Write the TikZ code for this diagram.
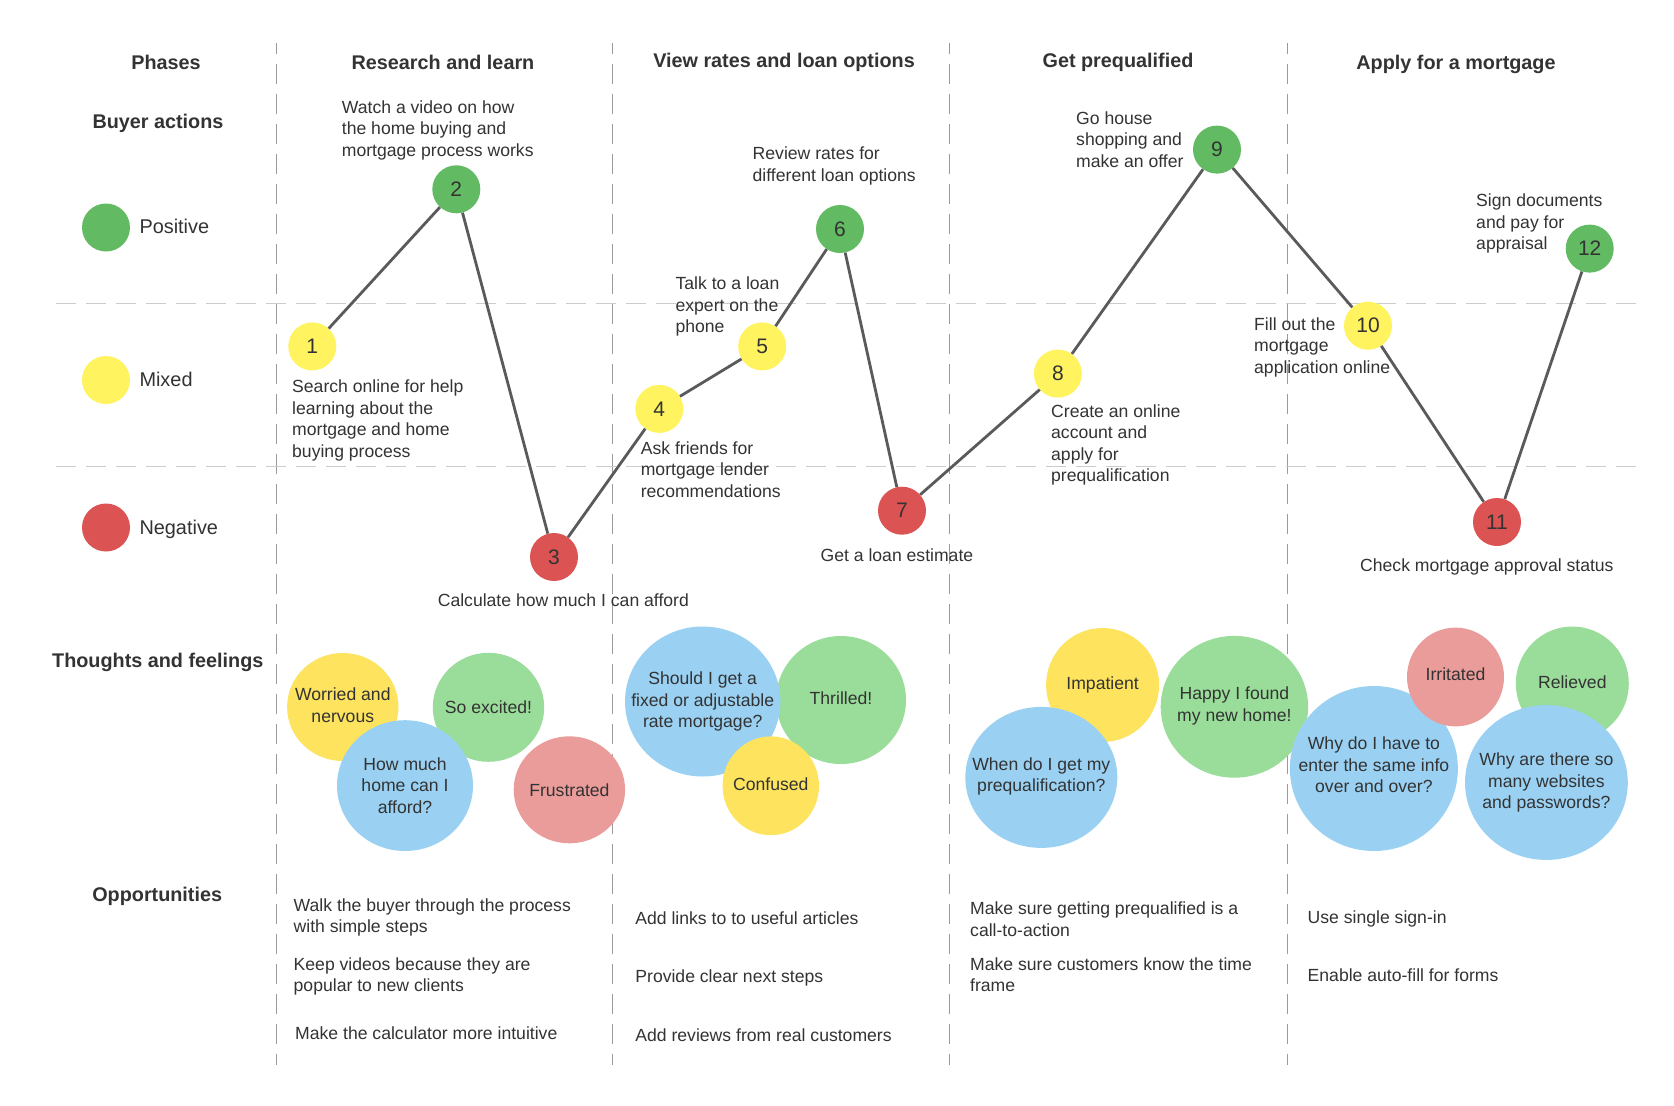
\documentclass[tikz,border=0pt]{standalone}
\usepackage{fontspec}
\setmainfont{Liberation Sans}
\usetikzlibrary{shapes.geometric}
\definecolor{txt}{HTML}{333333}
\definecolor{pgreen}{HTML}{62BB62}
\definecolor{pyellow}{HTML}{FFF35F}
\definecolor{pred}{HTML}{DB5353}
\definecolor{byellow}{HTML}{FDE35E}
\definecolor{bgreen}{HTML}{9ADD9A}
\definecolor{bblue}{HTML}{9AD1F3}
\definecolor{bpink}{HTML}{E99C9A}
\definecolor{vlinec}{HTML}{9A9A9A}
\definecolor{hlinec}{HTML}{CCCCCC}
\definecolor{jlinec}{HTML}{5A5A5A}
\tikzset{
  hdr/.style={font=\fontsize{19.8}{24}\selectfont\bfseries, text=txt, inner sep=0pt, yshift=-1.5pt},
  leg/.style={font=\fontsize{19.9}{24}\selectfont, text=txt, inner sep=0pt, anchor=west, yshift=-1pt},
  lbl/.style={font=\fontsize{17.6}{21.5}\selectfont, text=txt, inner sep=0pt, anchor=west, align=left, yshift=-1.5pt},
  ptbase/.style={circle, minimum size=48pt, inner sep=0pt, font=\fontsize{21}{24}\selectfont, text=txt},
  ptpos/.style={ptbase, fill=pgreen},
  ptmix/.style={ptbase, fill=pyellow},
  ptneg/.style={ptbase, fill=pred},
  jl/.style={draw=jlinec, line width=2.8pt},
  bub/.style={ellipse, inner sep=0pt},
  btxt/.style={font=\fontsize{17.6}{21.5}\selectfont, text=txt, inner sep=0pt, align=center},
  vgrid/.style={draw=vlinec, line width=1.3pt, dash pattern=on 20pt off 10pt, dash phase=9pt},
  hgrid/.style={draw=hlinec, line width=1.3pt, dash pattern=on 20pt off 10pt}
}
\begin{document}
\begin{tikzpicture}[x=1pt,y=-1pt]
\fill[white] (0,0) rectangle (1674,1106);
\path[use as bounding box] (0,0) rectangle (1674,1106);

% grid
\foreach \gx in {276.4,612.2,949.7,1287.7} {
  \draw[vgrid] (\gx,43) -- (\gx,1065);
}
\draw[hgrid] (56,303.3) -- (1636,303.3);
\draw[hgrid] (56,466.4) -- (1636,466.4);

% headers
\node[hdr] (hphases) at (166,61) {Phases};
\node[hdr] (hresearch) at (443,61) {Research and learn};
\node[hdr] (hview) at (784,61) {View rates and loan options};
\node[hdr] (hprequal) at (1118,61) {Get prequalified};
\node[hdr] (happly) at (1456,63) {Apply for a mortgage};
\node[hdr] (hbuyer) at (158,121.4) {Buyer actions};
\node[hdr] (hthoughts) at (157.8,661.3) {Thoughts and feelings};
\node[hdr] (hopp) at (157.2,894.4) {Opportunities};

% legend
\node[ptpos] (lpos) at (106,227.5) {};
\node[ptmix] (lmix) at (106,380) {};
\node[ptneg] (lneg) at (106,527.5) {};
\node[leg] (tpos) at (139.3,225.7) {Positive};
\node[leg] (tmix) at (139.3,378.6) {Mixed};
\node[leg] (tneg) at (139.3,527.9) {Negative};

% journey points
\node[ptmix] (p1) at (312.3,346.4) {1};
\node[ptpos] (p2) at (456.3,189.3) {2};
\node[ptneg] (p3) at (554,557) {3};
\node[ptmix] (p4) at (659.3,408.9) {4};
\node[ptmix] (p5) at (762.2,346.4) {5};
\node[ptpos] (p6) at (840,229) {6};
\node[ptneg] (p7) at (902,510.7) {7};
\node[ptmix] (p8) at (1057.9,373.6) {8};
\node[ptpos] (p9) at (1217,149.6) {9};
\node[ptmix] (p10) at (1368,325.7) {10};
\node[ptneg] (p11) at (1497,522) {11};
\node[ptpos] (p12) at (1589.7,248.6) {12};

\draw[jl] (p1) -- (p2);
\draw[jl] (p2) -- (p3);
\draw[jl] (p3) -- (p4);
\draw[jl] (p4) -- (p5);
\draw[jl] (p5) -- (p6);
\draw[jl] (p6) -- (p7);
\draw[jl] (p7) -- (p8);
\draw[jl] (p8) -- (p9);
\draw[jl] (p9) -- (p10);
\draw[jl] (p10) -- (p11);
\draw[jl] (p11) -- (p12);

% journey labels
\node[lbl] (a2) at (341.7,128.8) {Watch a video on how\\the home buying and\\mortgage process works};
\node[lbl] (a1) at (292,419) {Search online for help\\learning about the\\mortgage and home\\buying process};
\node[lbl] (a3) at (437.6,598.9) {Calculate how much I can afford};
\node[lbl] (a4) at (640.6,467.9) {Ask friends for\\mortgage lender\\recommendations};
\node[lbl] (a5) at (675.4,305) {Talk to a loan\\expert on the\\phone};
\node[lbl] (a6) at (752.5,164.3) {Review rates for\\different loan options};
\node[lbl] (a7) at (820.4,554) {Get a loan estimate};
\node[lbl] (a9) at (1076,138.2) {Go house\\shopping and\\make an offer};
\node[lbl] (a8) at (1051,443.6) {Create an online\\account and\\apply for\\prequalification};
\node[lbl] (a10) at (1254,345.7) {Fill out the\\mortgage\\application online};
\node[lbl] (a12) at (1476,222.1) {Sign documents\\and pay for\\appraisal};
\node[lbl] (a11) at (1360,565.7) {Check mortgage approval status};

% thoughts and feelings bubbles
\node[bub, fill=byellow, minimum width=111.4pt, minimum height=108pt] (b1) at (342.8,707) {};
\node[btxt] at (342.8,705) {Worried and\\nervous};
\node[bub, fill=bgreen, minimum width=111.4pt, minimum height=109pt] (b2) at (488.5,707.3) {};
\node[btxt] at (b2) {So excited!};
\node[bub, fill=bblue, minimum width=136pt, minimum height=130.8pt] (b3) at (405,785.6) {};
\node[btxt] at (b3) {How much\\home can I\\afford?};
\node[bub, fill=bpink, minimum width=111.4pt, minimum height=107pt] (b4) at (569.4,789.8) {};
\node[btxt] at (b4) {Frustrated};
\node[bub, fill=bgreen, minimum width=130pt, minimum height=128pt] (b6) at (841,700) {};
\node[btxt] at (841,698) {Thrilled!};
\node[bub, fill=bblue, minimum width=155.4pt, minimum height=150pt] (b5) at (702.7,701.5) {};
\node[btxt] at (b5) {Should I get a\\fixed or adjustable\\rate mortgage?};
\node[bub, fill=byellow, minimum width=96.4pt, minimum height=98.8pt] (b7) at (770.8,785.8) {};
\node[btxt] at (770.8,784) {Confused};
\node[bub, fill=byellow, minimum width=113pt, minimum height=114pt] (b8) at (1102.6,685) {};
\node[btxt] at (b8) {Impatient};
\node[bub, fill=bblue, minimum width=152pt, minimum height=141pt] (b9) at (1041.3,777.4) {};
\node[btxt] at (1041.3,776.3) {When do I get my\\prequalification?};
\node[bub, fill=bgreen, minimum width=147.4pt, minimum height=141.8pt] (b10) at (1234.4,706.8) {};
\node[btxt] at (1234.4,705.7) {Happy I found\\my new home!};
\node[bub, fill=bblue, minimum width=168pt, minimum height=165pt] (b11) at (1373.9,768.5) {};
\node[btxt] at (1373.9,764.7) {Why do I have to\\enter the same info\\over and over?};
\node[bub, fill=bpink, minimum width=97pt, minimum height=98.8pt] (b12) at (1455.5,677) {};
\node[btxt] at (1455.5,674.7) {Irritated};
\node[bub, fill=bgreen, minimum width=113pt, minimum height=114pt] (b13) at (1572.3,683.5) {};
\node[btxt] at (1572.3,682.5) {Relieved};
\node[bub, fill=bblue, minimum width=162.8pt, minimum height=154.8pt] (b14) at (1546.4,782.5) {};
\node[btxt] at (b14) {Why are there so\\many websites\\and passwords?};

% opportunities
\node[lbl] (o1) at (293.5,916) {Walk the buyer through the process\\with simple steps};
\node[lbl] (o2) at (293.5,975) {Keep videos because they are\\popular to new clients};
\node[lbl] (o3) at (295,1032) {Make the calculator more intuitive};
\node[lbl] (o4) at (635.2,916.7) {Add links to to useful articles};
\node[lbl] (o5) at (635.2,976.3) {Provide clear next steps};
\node[lbl] (o6) at (635.2,1033.4) {Add reviews from real customers};
\node[lbl] (o7) at (970,917.9) {Make sure getting prequalified is a\\call-to-action};
\node[lbl] (o8) at (970,973.1) {Make sure customers know the time\\frame};
\node[lbl] (o9) at (1307.5,917.4) {Use single sign-in};
\node[lbl] (o10) at (1307.5,973.8) {Enable auto-fill for forms};
\end{tikzpicture}
\end{document}
